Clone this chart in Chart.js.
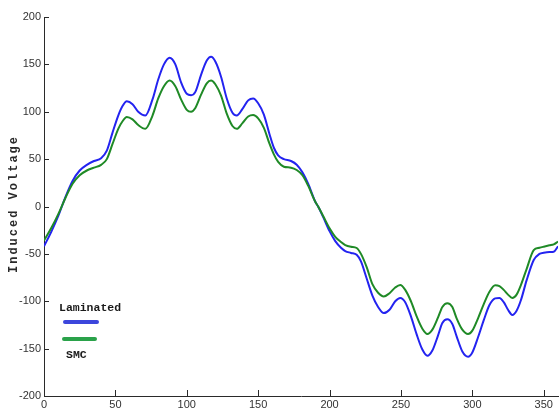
<!DOCTYPE html>
<html>
<head>
<meta charset="utf-8">
<script src="https://cdn.jsdelivr.net/npm/chart.js@4/dist/chart.umd.min.js"></script>
<style>
  html, body { margin: 0; padding: 0; background: #fff; }
  #wrap { width: 559px; height: 412px; position: relative; }
</style>
</head>
<body>
<div id="wrap"><canvas id="c" width="559" height="412"></canvas></div>
<script>
// Rotor angle (degrees) at which the two EMF traces are sampled
const angles = [
  0, 5, 10, 15, 20, 25, 30, 35, 40, 44, 48, 52, 55, 58, 62, 66, 71, 76, 80, 84,
  88, 92, 96, 100, 103, 106, 110, 114, 117, 120, 124, 128, 132, 135, 139, 143, 146.5, 150, 154, 158,
  161, 164, 168, 173, 177, 181, 185, 190, 192, 195.5, 200, 204, 208, 211, 215, 219, 222, 226, 230, 234,
  238, 242, 246, 249.5, 253, 257, 261, 265, 268.5, 272, 276, 279, 282.5, 286, 289, 293, 297, 300, 304, 308,
  312, 316, 319, 322, 325, 328, 331, 334, 338, 343, 347, 350, 354, 357, 360
];

// Induced voltage, laminated core
const laminated = [
  -42, -27, -10, 10, 27, 38, 44, 48, 51, 59, 78, 96, 106, 111, 108, 100, 96, 113, 134, 150,
  157, 150, 131, 119, 117.5, 121, 139, 154, 158, 153, 137, 114, 99, 96, 103, 112, 114, 109, 97, 76,
  62, 54, 50, 48, 44, 36, 24, 5, 0, -11, -26, -36.5, -43.5, -47, -49, -51, -58, -76, -94, -106,
  -112.5, -109, -100, -96.5, -101, -116, -135, -151, -157.5, -152, -136, -123, -119, -124, -137, -153, -158.5, -154, -138, -120,
  -104, -97, -96.5, -101, -109, -114.5, -110, -99, -78, -56.5, -50, -48.8, -48, -47.7, -42
];

// Induced voltage, SMC core
const smc = [
  -36, -23, -8, 9, 24, 33, 38, 41, 44, 50, 66, 82, 90, 94.5, 92, 86, 82, 96, 114, 127,
  133, 127, 113, 102, 100, 104, 118, 130, 133, 129, 117, 98, 85, 82, 88, 95, 96.5, 93, 83, 66,
  55, 47, 42, 41, 38.5, 33, 22, 5, 0, -10, -23, -32, -37.5, -40.7, -42.5, -43.8, -50, -64, -82, -91,
  -95, -91.5, -85.5, -82.8, -88, -100, -116, -129, -134.6, -130, -117, -106, -102, -106, -118, -130, -134.6, -131, -118, -103,
  -90, -83, -84, -88, -93, -96.5, -93, -83, -66, -46, -43.5, -42.4, -41, -40, -37
];

// Axis tick values and names
const xTickValues = [0, 50, 100, 150, 200, 250, 300, 350];
const yTickValues = [-200, -150, -100, -50, 0, 50, 100, 150, 200];
const seriesNames = ['Laminated', 'SMC'];
const yTitle = 'Induced Voltage';

const toPoints = (xs, ys) => xs.map((a, i) => ({ x: a, y: ys[i] }));

const tickFont = { family: "'Liberation Sans Narrow', 'Liberation Sans', Arial, sans-serif", size: 11 };
const monoFamily = "'Liberation Mono', 'DejaVu Sans Mono', 'Courier New', monospace";

// MATLAB-style tick marks pointing into the plot area
const innerTicks = {
  id: 'innerTicks',
  afterDatasetsDraw(chart) {
    const { ctx, chartArea, scales } = chart;
    ctx.save();
    ctx.strokeStyle = '#2a2a2a';
    ctx.lineWidth = 1;
    scales.x.ticks.forEach(t => {
      const px = Math.round(scales.x.getPixelForValue(t.value)) + 0.5;
      ctx.beginPath();
      ctx.moveTo(px, chartArea.bottom);
      ctx.lineTo(px, chartArea.bottom - 6);
      ctx.stroke();
    });
    scales.y.ticks.forEach(t => {
      const py = Math.round(scales.y.getPixelForValue(t.value)) + 0.5;
      ctx.beginPath();
      ctx.moveTo(chartArea.left, py);
      ctx.lineTo(chartArea.left + 5, py);
      ctx.stroke();
    });
    ctx.restore();
  }
};

// Rotated y-axis title and the small hand-placed legend
const annotations = {
  id: 'annotations',
  afterDraw(chart) {
    const { ctx } = chart;
    ctx.save();
    ctx.fillStyle = '#2a2a2a';
    ctx.font = 'bold 12px ' + monoFamily;
    if ('letterSpacing' in ctx) ctx.letterSpacing = '2px';
    ctx.textAlign = 'center';
    ctx.textBaseline = 'middle';
    ctx.translate(14, 204);
    ctx.rotate(-Math.PI / 2);
    ctx.fillText(yTitle, 0, 0);
    ctx.restore();

    ctx.save();
    ctx.fillStyle = '#1a1a1a';
    ctx.font = 'bold 11.5px ' + monoFamily;
    ctx.textAlign = 'left';
    ctx.textBaseline = 'middle';
    ctx.fillText(seriesNames[0], 59, 308);
    ctx.fillText(seriesNames[1], 66, 355);
    ctx.lineCap = 'round';
    ctx.lineWidth = 4;
    ctx.strokeStyle = '#3c46dc';
    ctx.beginPath(); ctx.moveTo(65, 322); ctx.lineTo(97, 322); ctx.stroke();
    ctx.strokeStyle = '#2aa24a';
    ctx.beginPath(); ctx.moveTo(64, 339); ctx.lineTo(95, 339); ctx.stroke();
    ctx.restore();
  }
};

new Chart(document.getElementById('c'), {
  type: 'line',
  data: {
    datasets: [
      {
        label: seriesNames[0],
        data: toPoints(angles, laminated),
        borderColor: '#2323f0',
        borderWidth: 2,
        pointRadius: 0,
        cubicInterpolationMode: 'monotone',
        order: 2
      },
      {
        label: seriesNames[1],
        data: toPoints(angles, smc),
        borderColor: '#1f8a26',
        borderWidth: 2,
        pointRadius: 0,
        cubicInterpolationMode: 'monotone',
        order: 1
      }
    ]
  },
  options: {
    responsive: false,
    animation: false,
    layout: { padding: { top: 17, right: 1, left: 0, bottom: 0 } },
    plugins: { legend: { display: false }, tooltip: { enabled: false } },
    scales: {
      x: {
        type: 'linear',
        min: 0,
        max: 360,
        afterBuildTicks(scale) {
          scale.ticks = xTickValues.map(v => ({ value: v }));
        },
        afterFit(scale) { scale.height = 16; },
        grid: { display: false, drawTicks: false },
        border: { display: true, color: '#2a2a2a', width: 1 },
        ticks: { font: tickFont, color: '#333', padding: 2, maxRotation: 0, autoSkip: false }
      },
      y: {
        min: -200,
        max: 200,
        afterBuildTicks(scale) {
          scale.ticks = yTickValues.map(v => ({ value: v }));
        },
        afterFit(scale) { scale.width = 44; },
        grid: { display: false, drawTicks: false },
        border: { display: true, color: '#2a2a2a', width: 1 },
        ticks: { font: tickFont, color: '#333', padding: 3 }
      }
    }
  },
  plugins: [innerTicks, annotations]
});
</script>
</body>
</html>
